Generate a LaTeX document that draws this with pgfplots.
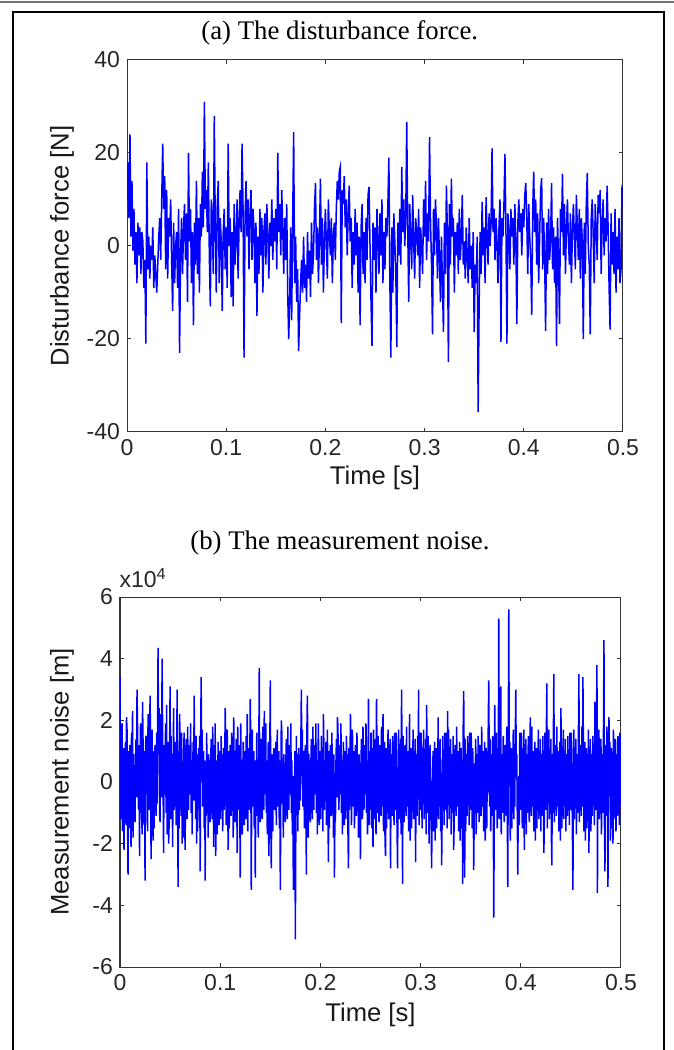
\documentclass[border=0pt]{standalone}
\usepackage{fontspec}
\setmainfont{Liberation Sans}
\newfontfamily\timesfont{Liberation Serif}
\usepackage{pgfplots}
\usepackage{pgfplotstable}
\pgfplotsset{compat=1.18}

% disturbance force [N], one sample per ms
\pgfplotstableread[row sep=\\]{
f\\
10\\ 18\\ 6\\ 24\\ 2\\ 14\\ -1\\ 8\\ -4\\ 3\\
-8\\ 5\\ -2\\ 4\\ -6\\ 3\\ 1\\ -9\\ -3\\ -21\\
18\\ -5\\ 2\\ -7\\ 0\\ -3\\ 4\\ -9\\ -2\\ -6\\
-10\\ -4\\ 2\\ 6\\ -3\\ 10\\ 22\\ 8\\ 15\\ -5\\
12\\ -7\\ 6\\ 2\\ 10\\ -3\\ -14\\ 5\\ -8\\ 0\\
3\\ -9\\ 8\\ -23\\ -2\\ 6\\ -6\\ 4\\ 9\\ -3\\
7\\ -12\\ 20\\ 1\\ 8\\ -8\\ 3\\ -17\\ 5\\ -4\\
14\\ -6\\ 6\\ -10\\ 9\\ 2\\ 16\\ 4\\ 31\\ 8\\
12\\ 3\\ 18\\ -2\\ -13\\ 10\\ 5\\ -6\\ 28\\ 4\\
-10\\ 9\\ 14\\ -8\\ 6\\ 1\\ -14\\ 3\\ 8\\ -5\\
4\\ -9\\ 22\\ 0\\ 6\\ -11\\ 3\\ -13\\ 9\\ -4\\
2\\ 10\\ -7\\ 5\\ 12\\ 3\\ 22\\ 8\\ -24\\ 6\\
14\\ 2\\ 10\\ -5\\ 7\\ 12\\ -3\\ 8\\ 4\\ -8\\
5\\ -15\\ 2\\ -6\\ 8\\ -2\\ 6\\ -10\\ 3\\ 7\\
-4\\ 9\\ 2\\ -7\\ 5\\ 0\\ 10\\ -3\\ 6\\ 1\\
8\\ -5\\ 20\\ 3\\ 9\\ -2\\ 12\\ 4\\ -6\\ 6\\
-3\\ 9\\ -10\\ -20\\ -12\\ 4\\ -16\\ 5\\ 24.5\\ -8\\
2\\ -12\\ -5\\ -22.6\\ -15\\ -8\\ -3\\ -10\\ 2\\ -9\\
-4\\ -12\\ 3\\ -7\\ -1\\ -11\\ 5\\ -6\\ -2\\ 8\\
13.5\\ -3\\ 4\\ -8\\ 2\\ 14.5\\ -4\\ 6\\ -10\\ 1\\
8\\ 0\\ -7\\ 10\\ 3\\ -2\\ 6\\ -8\\ 2\\ 5\\
-3\\ 8\\ 14\\ 10\\ 16\\ 17\\ -16.6\\ 12\\ 9\\ 15\\
4\\ 10\\ -2\\ 7\\ 13\\ 1\\ 6\\ -9\\ 3\\ -4\\
8\\ -2\\ 5\\ -10\\ 2\\ -17\\ 4\\ 9\\ -6\\ 3\\
-8\\ 6\\ -3\\ 11\\ 12.7\\ 0\\ -12\\ -21.5\\ 5\\ -3\\
4\\ -10\\ 8\\ 1\\ -6\\ 7\\ -2\\ 10\\ -8\\ 3\\
-5\\ 6\\ 2\\ 9\\ 19\\ -8\\ -24\\ 4\\ -10\\ 7\\
1\\ -6\\ -21.7\\ 5\\ -2\\ 8\\ -4\\ 17\\ 3\\ 10\\
0\\ 6\\ 26.7\\ 4\\ -12\\ 9\\ 2\\ -5\\ 11\\ 1\\
-7\\ 6\\ 3\\ -2\\ 8\\ -9\\ 4\\ 0\\ -6\\ 10\\
2\\ 14\\ -3\\ 7\\ 1\\ 23.4\\ 5\\ -4\\ -19\\ 8\\
-2\\ 10\\ 4\\ -7\\ 6\\ -3\\ -12\\ 2\\ -8\\ -18.5\\
5\\ -6\\ 13\\ 3\\ -25\\ 9\\ -4\\ 14.5\\ 2\\ 6\\
-10\\ 3\\ -2\\ 5\\ -6\\ 8\\ -3\\ 2\\ 11\\ -4\\
1\\ -7\\ 4\\ -2\\ -8\\ 6\\ -5\\ 0\\ -9\\ 3\\
-18.5\\ -4\\ -8\\ 2\\ -35.7\\ -12\\ 3\\ -6\\ 9.5\\ -2\\
4\\ -8\\ 10.5\\ 2\\ -4\\ 7\\ 0\\ 5\\ 21\\ 3\\
8\\ -3\\ 6\\ 1\\ -8\\ 4\\ 10\\ -20.6\\ 6\\ 2\\
9\\ 19.8\\ 4\\ -21\\ 7\\ 3\\ -5\\ 8\\ 2\\ 6\\
-4\\ 9\\ 1\\ -16.8\\ 5\\ 10\\ 3\\ 7\\ -2\\ 8\\
4\\ 11\\ 13.5\\ 6\\ -6\\ 9\\ 2\\ -3\\ -14.8\\ 8\\
16\\ 3\\ 10\\ -4\\ 7\\ -8\\ 2\\ 12\\ 14.6\\ -5\\
6\\ -2\\ -18.3\\ 5\\ -6\\ 8\\ -3\\ 1\\ 13.5\\ -5\\
4\\ -8\\ 2\\ -21.5\\ 6\\ -3\\ -16.8\\ 8\\ 3\\ 15.5\\
-2\\ 9\\ -6\\ 4\\ 10\\ 1\\ -4\\ 7\\ -8\\ 3\\
9\\ 2\\ -5\\ 11\\ 4\\ -3\\ 8\\ -7\\ 6\\ 1\\
-20\\ 5\\ -6\\ 9\\ 15.7\\ 0\\ -4\\ -19\\ 6\\ 10\\
2\\ -8\\ 9\\ 4\\ -3\\ 11\\ 7\\ 12\\ -6\\ 5\\
10\\ -2\\ 6\\ 1\\ 13\\ 4\\ -9\\ -18\\ 7\\ -4\\
3\\ -6\\ 8\\ -10\\ 2\\ -5\\ 6\\ -8\\ -5\\ 12.5\\
12\\
}\forcedata

% measurement noise (x10^4), one sample per 0.5 ms
\pgfplotstableread[row sep=\\]{
n\\
3.4\\ -1.2\\ 1.5\\ -0.4\\ 1.9\\ -1.6\\ 0.3\\ 1.1\\ -2.2\\ 0.5\\
-0.6\\ 1.3\\ -1.4\\ 2.1\\ 1.7\\ -0.8\\ -3.0\\ 1.0\\ -1.5\\ 0.7\\
1.2\\ -0.3\\ -2.1\\ 1.6\\ -0.7\\ 2.3\\ -1.8\\ 0.9\\ 0.1\\ -1.0\\
-1.3\\ 0.6\\ 1.4\\ -0.5\\ 3.0\\ 1.8\\ 0.0\\ -0.9\\ 1.2\\ -2.4\\
0.4\\ 1.9\\ -1.0\\ 0.7\\ -1.7\\ 2.6\\ 1.3\\ -0.6\\ -1.4\\ 1.0\\
-3.2\\ 1.2\\ 1.5\\ -0.4\\ 0.9\\ -1.6\\ 2.2\\ 1.1\\ -0.9\\ 0.5\\
2.8\\ 1.3\\ -2.5\\ 0.2\\ 1.7\\ -0.8\\ -1.9\\ 1.0\\ -1.5\\ 0.7\\
1.2\\ -0.3\\ -1.1\\ 1.6\\ -0.7\\ 2.0\\ 4.35\\ 0.9\\ 2.4\\ -1.0\\
-1.3\\ 2.2\\ 1.4\\ -0.5\\ 4.0\\ 1.8\\ 0.0\\ -2.3\\ 1.2\\ -0.4\\
0.4\\ 1.9\\ -1.0\\ 2.5\\ -1.7\\ 0.2\\ 1.3\\ -2.0\\ -1.4\\ 1.0\\
3.1\\ -1.2\\ 1.5\\ -0.4\\ 0.9\\ -2.1\\ 0.3\\ 2.4\\ -0.9\\ 0.5\\
-0.6\\ 1.3\\ -1.4\\ 0.2\\ 3.0\\ -0.8\\ -3.4\\ 1.0\\ -1.5\\ 2.2\\
1.2\\ -0.3\\ -1.1\\ 1.6\\ -2.0\\ 0.4\\ -1.8\\ 0.9\\ 1.6\\ -1.0\\
-2.2\\ 0.6\\ 1.4\\ -0.5\\ -1.2\\ 1.8\\ 0.0\\ -0.9\\ 1.2\\ -0.4\\
0.4\\ 1.9\\ -1.0\\ 0.7\\ -1.7\\ 0.2\\ 1.3\\ -0.6\\ 2.8\\ 1.0\\
0.8\\ -1.2\\ 1.5\\ -2.0\\ 0.9\\ -1.6\\ 0.3\\ 1.1\\ -0.9\\ 1.5\\
-2.9\\ 1.3\\ 3.4\\ 0.2\\ 1.7\\ -0.8\\ -0.2\\ 1.0\\ -1.5\\ 0.7\\
-3.2\\ -0.3\\ -1.1\\ 1.6\\ -0.7\\ 0.4\\ -1.8\\ 0.9\\ 0.1\\ -1.0\\
-1.3\\ 0.6\\ 1.4\\ -0.5\\ -1.2\\ 1.8\\ 0.0\\ -2.1\\ 1.2\\ -0.4\\
1.9\\ -2.4\\ -1.0\\ 0.7\\ -1.7\\ 0.2\\ 1.3\\ -0.6\\ -1.4\\ 1.0\\
0.8\\ -1.2\\ 1.5\\ -0.4\\ 0.9\\ -1.6\\ 0.3\\ 1.1\\ -0.9\\ 0.5\\
2.4\\ 1.3\\ -1.4\\ 0.2\\ 1.7\\ -0.8\\ -2.2\\ 1.0\\ -1.5\\ 0.7\\
1.2\\ -0.3\\ -1.1\\ 1.6\\ -0.7\\ 0.4\\ -1.8\\ 2.1\\ 0.1\\ -1.0\\
-1.3\\ 0.6\\ 1.4\\ -0.5\\ -2.3\\ 1.8\\ 0.0\\ -0.9\\ 1.2\\ -0.4\\
-3.1\\ 1.9\\ -1.0\\ 0.7\\ -1.7\\ 0.2\\ 1.3\\ -0.6\\ -1.4\\ 1.0\\
0.8\\ -1.2\\ 1.5\\ -0.4\\ 2.2\\ -1.6\\ 0.3\\ 1.1\\ -0.9\\ 0.5\\
2.7\\ 1.3\\ -3.5\\ 0.2\\ 1.7\\ -0.8\\ -0.2\\ 1.0\\ -1.5\\ 0.7\\
-3.1\\ -0.3\\ -1.1\\ 1.6\\ -0.7\\ 0.4\\ -1.8\\ 0.9\\ 3.7\\ -1.0\\
-1.3\\ 0.6\\ 1.4\\ -0.5\\ -1.2\\ 1.8\\ 0.0\\ -0.9\\ 2.3\\ -0.4\\
0.4\\ 1.9\\ -1.0\\ 0.7\\ -1.7\\ 0.2\\ 1.3\\ -2.4\\ -1.4\\ 1.0\\
3.3\\ -1.2\\ -2.8\\ -0.4\\ 0.9\\ -1.6\\ 0.3\\ 1.1\\ -0.9\\ 0.5\\
-0.6\\ 1.3\\ -1.4\\ 0.2\\ 1.7\\ -0.8\\ -0.2\\ 1.0\\ -1.5\\ 0.7\\
-3.5\\ -0.3\\ 2.0\\ 1.6\\ -0.7\\ 0.4\\ -1.8\\ 0.9\\ 0.1\\ -1.0\\
-1.3\\ 0.6\\ 1.4\\ -0.5\\ -1.2\\ 1.8\\ 0.0\\ -0.9\\ 1.2\\ -0.4\\
0.4\\ 1.9\\ -1.0\\ 0.7\\ -1.7\\ 0.2\\ -3.5\\ -0.6\\ -1.4\\ 1.0\\
-5.1\\ -1.2\\ 1.5\\ -0.4\\ 0.9\\ -1.6\\ 0.3\\ 1.1\\ -0.9\\ 0.5\\
-0.6\\ 1.3\\ 3.0\\ 0.2\\ 1.7\\ -0.8\\ -0.2\\ 1.0\\ -1.5\\ 0.7\\
1.2\\ -0.3\\ -3.0\\ 1.6\\ 2.8\\ 0.4\\ -1.8\\ 0.9\\ 0.1\\ -1.0\\
-1.3\\ 0.6\\ 1.4\\ -0.5\\ -1.2\\ 1.8\\ 0.0\\ -0.9\\ 1.2\\ -0.4\\
0.4\\ 1.9\\ -1.0\\ 0.7\\ -1.7\\ 0.2\\ 1.9\\ -0.6\\ -1.4\\ 1.0\\
0.8\\ -1.2\\ 1.5\\ -0.4\\ 0.9\\ -1.6\\ 2.2\\ 1.1\\ -0.9\\ 0.5\\
-0.6\\ 1.3\\ -1.4\\ 0.2\\ 1.7\\ -0.8\\ -2.6\\ 1.0\\ -1.5\\ 0.7\\
1.2\\ -0.3\\ -1.1\\ 1.6\\ -0.7\\ 0.4\\ -1.8\\ 0.9\\ -3.1\\ -1.0\\
-1.3\\ 0.6\\ 1.4\\ -0.5\\ 2.1\\ 1.8\\ 0.0\\ -0.9\\ 1.2\\ -0.4\\
0.4\\ 1.9\\ -1.0\\ 0.7\\ -1.7\\ 0.2\\ 1.3\\ -0.6\\ -1.4\\ 1.0\\
0.8\\ -1.2\\ 1.5\\ -0.4\\ 0.9\\ -1.6\\ -2.8\\ 1.1\\ -0.9\\ 0.5\\
2.2\\ 1.3\\ -1.4\\ 0.2\\ 1.7\\ -0.8\\ -0.2\\ 1.0\\ -1.5\\ 0.7\\
1.2\\ -0.3\\ -1.1\\ 1.6\\ -0.7\\ 0.4\\ -1.8\\ 0.9\\ 0.1\\ -1.0\\
-2.5\\ 0.6\\ 1.4\\ -0.5\\ -1.2\\ 1.8\\ 0.0\\ -0.9\\ 1.2\\ -0.4\\
0.4\\ 1.9\\ -1.0\\ 0.7\\ -1.7\\ 0.2\\ 2.7\\ -0.6\\ -1.4\\ 1.0\\
-0.9\\ 1.6\\ 0.2\\ -1.5\\ 1.1\\ -2.1\\ 1.7\\ -1.2\\ 0.6\\ -0.1\\
1.4\\ -1.7\\ 2.7\\ 0.9\\ -1.0\\ 1.5\\ -0.6\\ -1.3\\ 0.8\\ 1.2\\
-0.2\\ -1.1\\ 1.8\\ -0.8\\ 0.3\\ 2.2\\ -1.6\\ 0.4\\ 1.3\\ -1.9\\
-2.4\\ 1.1\\ -1.5\\ 0.1\\ -0.4\\ 1.7\\ -1.2\\ 0.6\\ -0.8\\ 1.4\\
-2.8\\ 0.3\\ 0.9\\ -1.1\\ 1.5\\ -0.5\\ 0.2\\ -1.4\\ 1.6\\ -0.7\\
-0.9\\ 1.6\\ 0.2\\ -1.5\\ -2.8\\ -0.3\\ 1.7\\ -1.2\\ 0.6\\ -0.1\\
1.4\\ -1.7\\ 3.0\\ 0.9\\ -3.3\\ 1.5\\ -0.6\\ -1.3\\ 0.8\\ 1.2\\
-0.2\\ -1.1\\ 1.8\\ -0.8\\ 0.3\\ 1.0\\ -1.6\\ 0.4\\ 2.2\\ -1.9\\
0.7\\ 1.1\\ -1.5\\ 0.1\\ -0.4\\ 1.7\\ -1.2\\ 0.6\\ -0.8\\ 1.4\\
-2.6\\ 0.3\\ 0.9\\ -1.1\\ 1.5\\ -0.5\\ 3.0\\ -1.4\\ 1.6\\ -0.7\\
-0.9\\ 1.6\\ 0.2\\ -1.5\\ 1.1\\ -0.3\\ 1.7\\ -1.2\\ 0.6\\ -0.1\\
1.4\\ -1.7\\ 2.5\\ 0.9\\ -1.0\\ 1.5\\ -0.6\\ -2.0\\ 0.8\\ 1.2\\
-0.2\\ -1.1\\ -2.8\\ -0.8\\ 0.3\\ 1.0\\ -1.6\\ 0.4\\ 1.3\\ -1.9\\
0.7\\ 1.1\\ -1.5\\ 0.1\\ -0.4\\ 2.1\\ -1.2\\ 0.6\\ -0.8\\ 1.4\\
-1.6\\ 0.3\\ -2.7\\ -1.1\\ 1.5\\ -0.5\\ 0.2\\ -1.4\\ 1.6\\ -0.7\\
-0.9\\ 1.6\\ 0.2\\ -1.5\\ 2.3\\ -0.3\\ 1.7\\ -1.2\\ 0.6\\ -0.1\\
1.4\\ -1.7\\ 0.5\\ 0.9\\ -1.0\\ 1.5\\ -2.2\\ -1.3\\ 0.8\\ 1.2\\
-0.2\\ -1.1\\ 1.8\\ -0.8\\ 0.3\\ 1.0\\ -1.6\\ 0.4\\ 1.3\\ -1.9\\
0.7\\ 1.1\\ -1.5\\ 0.1\\ -3.3\\ 1.7\\ 2.95\\ 0.6\\ -3.1\\ 1.4\\
-1.6\\ 0.3\\ 0.9\\ -1.1\\ 1.5\\ -0.5\\ 0.2\\ -1.4\\ 1.6\\ -0.7\\
-0.9\\ 1.6\\ 0.2\\ -1.5\\ 1.1\\ -0.3\\ -2.85\\ -1.2\\ 0.6\\ -0.1\\
1.4\\ -1.7\\ 0.5\\ 0.9\\ -1.0\\ 1.5\\ -0.6\\ -1.3\\ 0.8\\ 1.2\\
-0.2\\ -1.1\\ 1.8\\ -0.8\\ 0.3\\ 1.0\\ -1.6\\ 0.4\\ 1.3\\ -1.9\\
0.7\\ 1.1\\ -1.5\\ 0.1\\ -0.4\\ 1.7\\ 3.3\\ 0.6\\ -0.8\\ 1.4\\
-1.6\\ 0.3\\ 0.9\\ -1.1\\ 1.5\\ -0.5\\ -4.4\\ -1.4\\ 2.5\\ -0.7\\
-0.9\\ 1.6\\ 0.2\\ -1.5\\ 1.1\\ -0.3\\ 5.3\\ -1.2\\ 0.6\\ -0.1\\
3.1\\ -1.7\\ 0.5\\ 0.9\\ -1.0\\ 1.5\\ -0.6\\ -1.3\\ 0.8\\ 1.2\\
-0.2\\ -1.1\\ 1.8\\ -0.8\\ -3.4\\ 1.0\\ 5.6\\ 0.4\\ 1.3\\ -1.9\\
0.7\\ 1.1\\ -1.5\\ 0.1\\ -0.4\\ 1.7\\ -1.2\\ 0.6\\ -0.8\\ 1.4\\
3.0\\ 0.3\\ 0.9\\ -1.1\\ -3.0\\ -0.5\\ 0.2\\ -1.4\\ 1.6\\ -0.7\\
-0.9\\ 1.6\\ 0.2\\ -1.5\\ 1.1\\ -0.3\\ 1.7\\ -2.2\\ 0.6\\ -0.1\\
1.4\\ -1.7\\ 0.5\\ 0.9\\ -1.0\\ 1.5\\ -0.6\\ -1.3\\ 0.8\\ 2.1\\
-0.2\\ -1.1\\ 1.8\\ -0.8\\ 0.3\\ 1.0\\ -1.6\\ 0.4\\ 1.3\\ -1.9\\
0.7\\ 1.1\\ -1.5\\ 0.1\\ -0.4\\ 1.7\\ -1.2\\ 0.6\\ -0.8\\ 1.4\\
-1.6\\ 0.3\\ 0.9\\ -1.1\\ 1.5\\ -0.5\\ -2.3\\ -1.4\\ 1.6\\ -0.7\\
-0.9\\ 1.6\\ 3.2\\ -1.5\\ 1.1\\ -0.3\\ 1.7\\ -1.2\\ 0.6\\ -0.1\\
1.4\\ -1.7\\ -2.7\\ 0.9\\ -1.0\\ 1.5\\ 3.5\\ -1.3\\ 0.8\\ 1.2\\
-0.2\\ -1.1\\ 1.8\\ -0.8\\ 0.3\\ 1.0\\ -1.6\\ 0.4\\ 1.3\\ -1.9\\
2.4\\ 1.1\\ -1.5\\ 0.1\\ -0.4\\ 1.7\\ -1.2\\ 0.6\\ -0.8\\ 1.4\\
-1.6\\ 0.3\\ 0.9\\ -1.1\\ 1.5\\ -0.5\\ 0.2\\ -1.4\\ 1.6\\ -0.7\\
-0.9\\ 1.6\\ 0.2\\ -1.5\\ -3.5\\ -0.3\\ 1.7\\ -1.2\\ 0.6\\ -0.1\\
1.4\\ -1.7\\ 0.5\\ 0.9\\ -1.0\\ 1.5\\ 3.5\\ -1.3\\ 0.8\\ 1.2\\
-0.2\\ -1.1\\ 1.8\\ -0.8\\ 3.4\\ 1.0\\ -1.6\\ 0.4\\ 1.3\\ -1.9\\
0.7\\ 1.1\\ -1.5\\ 0.1\\ -0.4\\ 1.7\\ -2.3\\ 0.6\\ -0.8\\ 1.4\\
-1.6\\ 0.3\\ 0.9\\ -1.1\\ 1.5\\ -0.5\\ 0.2\\ -1.4\\ 2.6\\ -0.7\\
-0.9\\ 1.6\\ 3.8\\ -3.6\\ 1.1\\ -0.3\\ 1.7\\ -1.2\\ 0.6\\ -0.1\\
1.4\\ -1.7\\ 0.5\\ 0.9\\ -1.0\\ 1.5\\ 4.6\\ -1.3\\ -2.9\\ 1.2\\
-0.2\\ -1.1\\ 1.8\\ -0.8\\ -3.4\\ 1.0\\ 2.1\\ 0.4\\ 1.3\\ -1.9\\
0.7\\ 1.1\\ -1.5\\ 0.1\\ -2.0\\ 1.7\\ -1.2\\ 0.6\\ -0.8\\ 1.4\\
-1.6\\ 0.3\\ 0.9\\ -1.1\\ 1.5\\ -0.5\\ 0.2\\ -1.4\\ 1.6\\ -0.7\\
0.9\\
}\noisedata

\pgfplotsset{
  matlab/.style={
    scale only axis,
    clip mode=individual,
    axis line style={black!80, line width=0.5pt},
    every tick/.style={black!80, line width=0.5pt},
    major tick length=1.8pt,
    tick align=inside,
    xmin=0, xmax=0.5,
    xtick={0,0.1,0.2,0.3,0.4,0.5},
    xticklabels={0,0.1,0.2,0.3,0.4,0.5},
    ticklabel style={font=\fontsize{11.5}{13}\selectfont, text=black!85},
    label style={font=\fontsize{12.8}{15}\selectfont, text=black!90},
    title style={font=\timesfont\fontsize{13.4}{16}\selectfont, anchor=center},
    /pgf/number format/assume math mode=true,
  },
}

\begin{document}
\begin{tikzpicture}
\path[use as bounding box] (0pt,0pt) rectangle (337pt,525pt);
\draw[black!55, line width=0.6pt] (0pt,524pt) -- (337pt,524pt);
\draw[black, line width=1pt] (6.5pt,0pt) -- (6.5pt,519pt) -- (332pt,519pt) -- (332pt,0pt);

\begin{axis}[matlab,
  at={(63.5pt,309pt)}, anchor=south west,
  width=248pt, height=186pt,
  ymin=-40, ymax=40,
  ytick={-40,-20,0,20,40},
  yticklabels={-40,-20,0,20,40},
  title={(a) The disturbance force.},
  title style={at={(axis description cs:0.429,1.041)}},
  xlabel={Time [s]},
  xlabel style={at={(axis description cs:0.5,-0.124)}, anchor=center},
  ylabel={Disturbance force [N]},
  ylabel style={at={(axis description cs:-0.131,0.5)}, anchor=center},
]
\addplot[blue, line width=0.75pt] table[x expr=\coordindex*0.001, y=f] {\forcedata};
\end{axis}

\begin{axis}[matlab,
  at={(60pt,41.5pt)}, anchor=south west,
  width=250.5pt, height=185pt,
  ymin=-6, ymax=6,
  ytick={-6,-4,-2,0,2,4,6},
  yticklabels={-6,-4,-2,0,2,4,6},
  title={(b) The measurement noise.},
  title style={at={(axis description cs:0.439,1.113)}},
  xlabel={Time [s]},
  xlabel style={at={(axis description cs:0.5,-0.130)}, anchor=center},
  ylabel={Measurement noise [m]},
  ylabel style={at={(axis description cs:-0.116,0.5)}, anchor=center},
]
\addplot[blue, line width=0.75pt] table[x expr=\coordindex*0.0005, y=n] {\noisedata};
\node[anchor=center, font=\fontsize{11.5}{13}\selectfont, text=black!85]
  at (axis description cs:0.046,1.051) {x10\textsuperscript{4}};
\end{axis}
\end{tikzpicture}
\end{document}
